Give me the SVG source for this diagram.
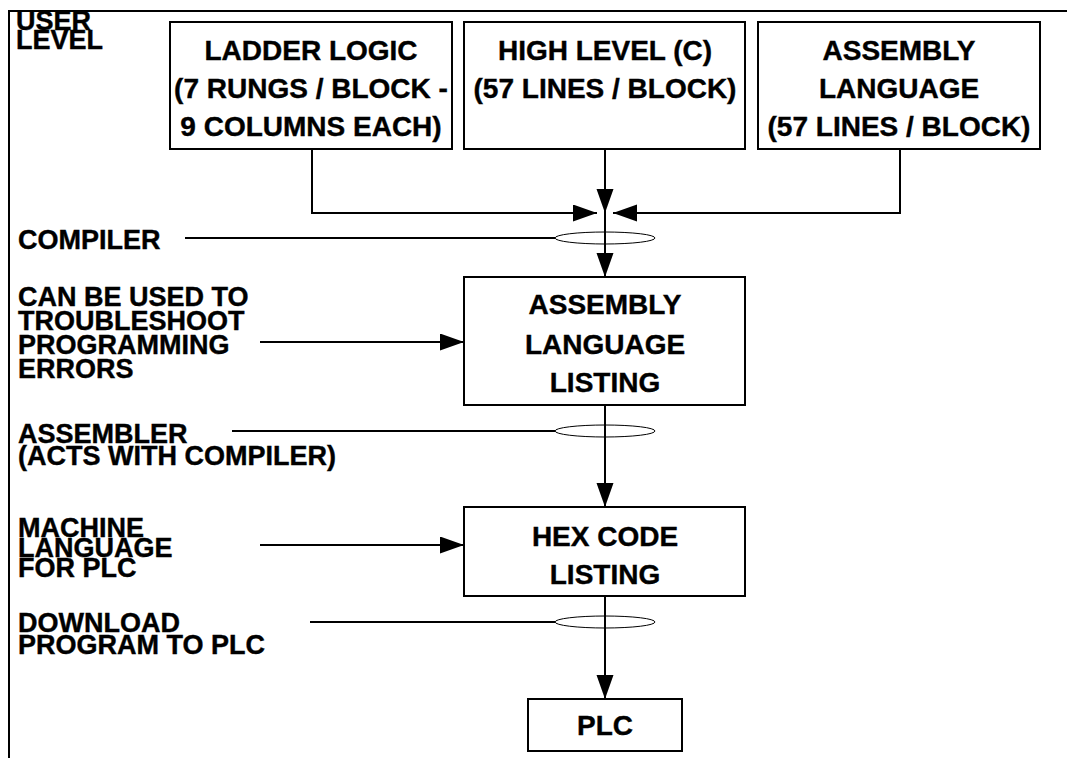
<svg xmlns="http://www.w3.org/2000/svg" width="1067" height="758" viewBox="0 0 1067 758">
<style>
text{font-family:"Liberation Sans",Arial,sans-serif;font-weight:bold;font-size:27px;fill:#000;stroke:#000;stroke-width:0.4}
.c{text-anchor:middle;font-size:28px}
.box{fill:#fff;stroke:#000;stroke-width:2}
.ln{fill:none;stroke:#000;stroke-width:2}
.el{fill:none;stroke:#000;stroke-width:1}
</style>
<defs>
<marker id="ah" markerUnits="userSpaceOnUse" markerWidth="26" markerHeight="18" refX="24" refY="8.5" orient="auto">
<path d="M0,0 L24,8.5 L0,17 Z" fill="#000"/>
</marker>
</defs>
<rect width="1067" height="758" fill="#fff"/>
<g id="frame">
<path class="ln" d="M9,758 V11 H1067"/>
</g>
<g id="labels">
<text x="16" y="30">USER</text>
<text x="16" y="49">LEVEL</text>
<text x="18" y="249">COMPILER</text>
<text x="18" y="306">CAN BE USED TO</text>
<text x="18" y="330">TROUBLESHOOT</text>
<text x="18" y="354">PROGRAMMING</text>
<text x="18" y="378">ERRORS</text>
<text x="18" y="443">ASSEMBLER</text>
<text x="18" y="465">(ACTS WITH COMPILER)</text>
<text x="18" y="537">MACHINE</text>
<text x="18" y="557">LANGUAGE</text>
<text x="18" y="577">FOR PLC</text>
<text x="18" y="632">DOWNLOAD</text>
<text x="18" y="654">PROGRAM TO PLC</text>
</g>
<g id="connectors">
<path class="ln" d="M312,149 V213 H597" marker-end="url(#ah)"/>
<path class="ln" d="M900,149 V213 H613" marker-end="url(#ah)"/>
<path class="ln" d="M605,149 V213" marker-end="url(#ah)"/>
<path class="ln" d="M605,213 V277" marker-end="url(#ah)"/>
<path class="ln" d="M605,405 V507" marker-end="url(#ah)"/>
<path class="ln" d="M605,596 V699" marker-end="url(#ah)"/>
<path class="ln" d="M260,342 H464" marker-end="url(#ah)"/>
<path class="ln" d="M260,545 H464" marker-end="url(#ah)"/>
<path class="ln" d="M185,238 H555"/>
<path class="ln" d="M232,431 H555"/>
<path class="ln" d="M310,622 H555"/>
<ellipse class="el" cx="605" cy="238" rx="50" ry="6"/>
<ellipse class="el" cx="605" cy="431" rx="50" ry="6"/>
<ellipse class="el" cx="605" cy="622" rx="50" ry="6"/>
</g>
<g id="ladder">
<rect class="box" x="170" y="22" width="282" height="127"/>
<text class="c" x="311" y="60">LADDER LOGIC</text>
<text class="c" x="311" y="98">(7 RUNGS / BLOCK -</text>
<text class="c" x="311" y="136">9 COLUMNS EACH)</text>
</g>
<g id="highlevel">
<rect class="box" x="464" y="22" width="281" height="127"/>
<text class="c" x="605" y="60">HIGH LEVEL (C)</text>
<text class="c" x="605" y="98">(57 LINES / BLOCK)</text>
</g>
<g id="assembly">
<rect class="box" x="758" y="22" width="282" height="127"/>
<text class="c" x="899" y="60">ASSEMBLY</text>
<text class="c" x="899" y="98">LANGUAGE</text>
<text class="c" x="899" y="136">(57 LINES / BLOCK)</text>
</g>
<g id="asmlisting">
<rect class="box" x="464" y="277" width="281" height="128"/>
<text class="c" x="605" y="314">ASSEMBLY</text>
<text class="c" x="605" y="354">LANGUAGE</text>
<text class="c" x="605" y="392">LISTING</text>
</g>
<g id="hex">
<rect class="box" x="464" y="507" width="281" height="89"/>
<text class="c" x="605" y="546">HEX CODE</text>
<text class="c" x="605" y="584">LISTING</text>
</g>
<g id="plc">
<rect class="box" x="528" y="699" width="154" height="52"/>
<text class="c" x="605" y="735">PLC</text>
</g>
</svg>
